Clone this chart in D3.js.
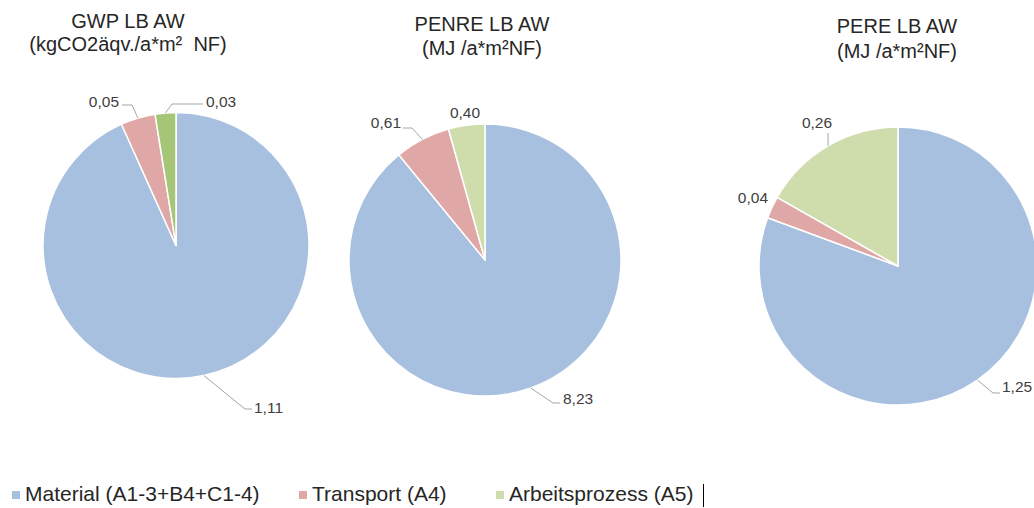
<!DOCTYPE html>
<html>
<head>
<meta charset="utf-8">
<script src="https://cdn.jsdelivr.net/npm/d3@7"></script>
<style>
  html, body { margin: 0; padding: 0; background: #ffffff; }
  svg { display: block; font-family: "Liberation Sans", Arial, sans-serif; }
</style>
</head>
<body>
<svg id="chart" width="1034" height="508"></svg>
<script>
// ---- data ----
const categories = ["Material (A1-3+B4+C1-4)", "Transport (A4)", "Arbeitsprozess (A5)"];
const gwpValues = [1.11, 0.05, 0.03];
const penreValues = [8.23, 0.61, 0.40];
const pereValues = [1.25, 0.04, 0.26];
const chartTitles = [
  ["GWP LB AW", "(kgCO2äqv./a*m²  NF)"],
  ["PENRE LB AW", "(MJ /a*m²NF)"],
  ["PERE LB AW", "(MJ /a*m²NF)"]
];

// ---- layout / style ----
const colors = ["#a8c0df", "#dfa8a7", "#cfdcab"];
const gwpGreen = "#a5c677";
const leaderColor = "#a6a6a6";

const panels = [
  { values: gwpValues, cx: 176, cy: 245.5, r: 133, titleX: 128, titleY: [28, 51],
    green: gwpGreen,
    labels: [
      { elbow: [245, 409], end: [252, 409], x: 254, y: 413, anchor: "start" },
      { elbow: [132, 105], end: [122, 105], x: 119, y: 107, anchor: "end" },
      { elbow: [172, 104], end: [203, 104], x: 206, y: 107, anchor: "start" }
    ] },
  { values: penreValues, cx: 485, cy: 260, r: 136, titleX: 482, titleY: [31, 55],
    green: colors[2],
    labels: [
      { elbow: [553, 403], end: [560, 403], x: 563, y: 404, anchor: "start" },
      { elbow: [412, 128], end: [403, 128], x: 401, y: 128, anchor: "end" },
      { elbow: null, x: 465, y: 118, anchor: "middle" }
    ] },
  { values: pereValues, cx: 898, cy: 266, r: 139, titleX: 897, titleY: [33, 58],
    green: colors[2],
    labels: [
      { elbow: [993, 393], end: [1000, 393], x: 1002, y: 392, anchor: "start" },
      { elbow: null, x: 768, y: 203, anchor: "end" },
      { elbow: [828, 133], end: null, x: 817, y: 128, anchor: "middle" }
    ] }
];

const fmt = v => d3.format(".2f")(v).replace(".", ",");

const svg = d3.select("#chart");
const pie = d3.pie().sort(null).value(d => d).startAngle(0).endAngle(2 * Math.PI);

panels.forEach((p, pi) => {
  const g = svg.append("g").attr("transform", `translate(${p.cx},${p.cy})`);
  const arc = d3.arc().innerRadius(0).outerRadius(p.r);
  const arcs = pie(p.values);
  const fillFor = i => (i === 2 ? p.green : colors[i]);

  g.selectAll("path.slice")
    .data(arcs)
    .join("path")
    .attr("class", "slice")
    .attr("d", arc)
    .attr("fill", (d, i) => fillFor(i))
    .attr("stroke", "#ffffff")
    .attr("stroke-width", 1.5)
    .attr("stroke-linejoin", "round");

  // leader lines from slice edge
  arcs.forEach((a, i) => {
    const L = p.labels[i];
    const mid = (a.startAngle + a.endAngle) / 2;
    const sx = p.cx + p.r * Math.sin(mid);
    const sy = p.cy - p.r * Math.cos(mid);
    if (L.elbow) {
      const pts = [[sx, sy], L.elbow];
      if (L.end) pts.push(L.end);
      svg.append("path")
        .attr("d", d3.line()(pts))
        .attr("fill", "none")
        .attr("stroke", leaderColor)
        .attr("stroke-width", 1);
    }
    svg.append("text")
      .attr("x", L.x)
      .attr("y", L.y)
      .attr("text-anchor", L.anchor)
      .attr("font-size", 15.5)
      .attr("fill", "#404040")
      .text(fmt(a.data));
  });

  // title
  const t = svg.append("text")
    .attr("text-anchor", "middle")
    .attr("font-size", 20)
    .attr("fill", "#262626")
    .style("white-space", "pre");
  chartTitles[pi].forEach((line, li) => {
    t.append("tspan").attr("x", p.titleX).attr("y", p.titleY[li]).text(line);
  });
});

// legend
const legendX = [12, 299, 496];
const lg = svg.append("g");
categories.forEach((c, i) => {
  lg.append("rect")
    .attr("x", legendX[i]).attr("y", 491)
    .attr("width", 8).attr("height", 8)
    .attr("fill", colors[i]);
  lg.append("text")
    .attr("x", legendX[i] + 13).attr("y", 501)
    .attr("font-size", 21)
    .attr("fill", "#262626")
    .text(c);
});
// stray text cursor in the original picture
lg.append("line")
  .attr("x1", 703.5).attr("x2", 703.5)
  .attr("y1", 484).attr("y2", 507)
  .attr("stroke", "#000").attr("stroke-width", 1);
</script>
</body>
</html>
